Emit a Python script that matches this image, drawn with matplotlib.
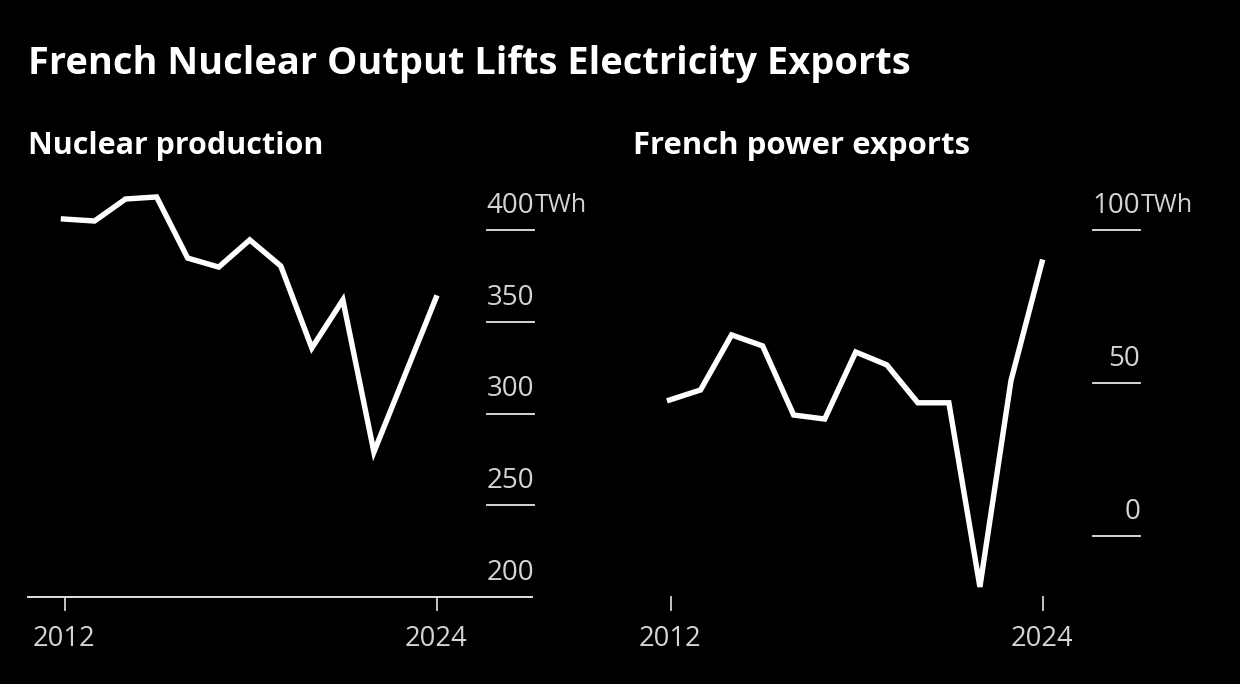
import matplotlib
matplotlib.use("Agg")
import matplotlib.pyplot as plt

years = list(range(2012, 2025))
nuclear = [406, 404.9, 416.9, 418, 384.7, 379.8, 394.6, 380.4, 335.7, 361.9, 279, 321, 363]
exports = [44.4, 47.7, 65.7, 62.1, 39.5, 38.2, 60.1, 55.9, 43.5, 43.5, -16.7, 50.7, 89.5]
nuclear_ticks = [200, 250, 300, 350, 400]
export_ticks = [0, 50, 100]
xtick_years = [2012, 2024]
unit = "TWh"
title = "French Nuclear Output Lifts Electricity Exports"
left_title = "Nuclear production"
right_title = "French power exports"

W, H = 1240, 684
SANS = ["Open Sans", "DejaVu Sans"]
GREY = "#d4d4d4"
PX = 72 / 100  # points per pixel at dpi 100

fig = plt.figure(figsize=(W / 100, H / 100), dpi=100, facecolor="black")

def fx(p): return p / W
def fy(p): return 1 - p / H

def panel(x0, x1, ytop, ybot, y_hi, y_lo, vals, ticks, baseline):
    ax = fig.add_axes([fx(x0), fy(ybot), (x1 - x0) / W, (ybot - ytop) / H])
    ax.set_facecolor("black")
    for s in ax.spines.values():
        s.set_visible(False)
    ax.tick_params(left=False, right=False, labelleft=False, bottom=False, labelbottom=False)
    ax.set_ylim(y_lo, y_hi)
    per = 372.5 / 12
    ax.set_xlim(2012 - 35.5 / per, 2012 + (x1 - x0 - 35.5) / per)
    ax.plot(years, vals, color="white", lw=3.9, solid_joinstyle="miter",
            solid_capstyle="projecting", clip_on=False, zorder=3)
    tx = ax.get_yaxis_transform()
    for t in ticks:
        if not (baseline and t == ticks[0]):
            ax.plot([0.908, 1.0], [t, t], transform=tx, color="#e6e6e6", lw=1.3, clip_on=False)
        ax.annotate(str(t), xy=(1.0, t), xycoords=tx, xytext=(0, 17 * PX), textcoords="offset points",
                    ha="right", va="baseline", color=GREY, fontsize=20, family=SANS)
    ax.annotate(unit, xy=(1.0, ticks[-1]), xycoords=tx, xytext=(1 * PX, 18 * PX), textcoords="offset points",
                ha="left", va="baseline", color=GREY, fontsize=18, family=SANS)
    xt = ax.get_xaxis_transform()
    tick_shift = 1 / per
    for yr in xtick_years:
        ax.plot([yr + tick_shift] * 2, [0, -13 / (ybot - ytop)], transform=xt, color=GREY, lw=1.3, clip_on=False)
        ax.annotate(str(yr), xy=(yr, 0), xycoords=xt, xytext=(0, -49 * PX), textcoords="offset points",
                    ha="center", va="baseline", color=GREY, fontsize=19.7, family=SANS)
    if baseline:
        ax.plot([0, 0.996], [0, 0], transform=ax.transAxes, color="#e0e0e0", lw=1.4, clip_on=False)
    return ax

panel(28, 534, 230, 597, 400, 200, nuclear, nuclear_ticks, True)
panel(634, 1140, 230, 597, 100, -20, exports, export_ticks, False)

fig.text(fx(28), fy(74), title, color="white", fontsize=27.4, fontweight="bold", family=SANS, ha="left", va="baseline")
fig.text(fx(28), fy(154), left_title, color="white", fontsize=22, fontweight="bold", family=SANS, ha="left", va="baseline")
fig.text(fx(633), fy(154), right_title, color="white", fontsize=22.4, fontweight="bold", family=SANS, ha="left", va="baseline")

fig.savefig("out.png", dpi=100, facecolor="black")
